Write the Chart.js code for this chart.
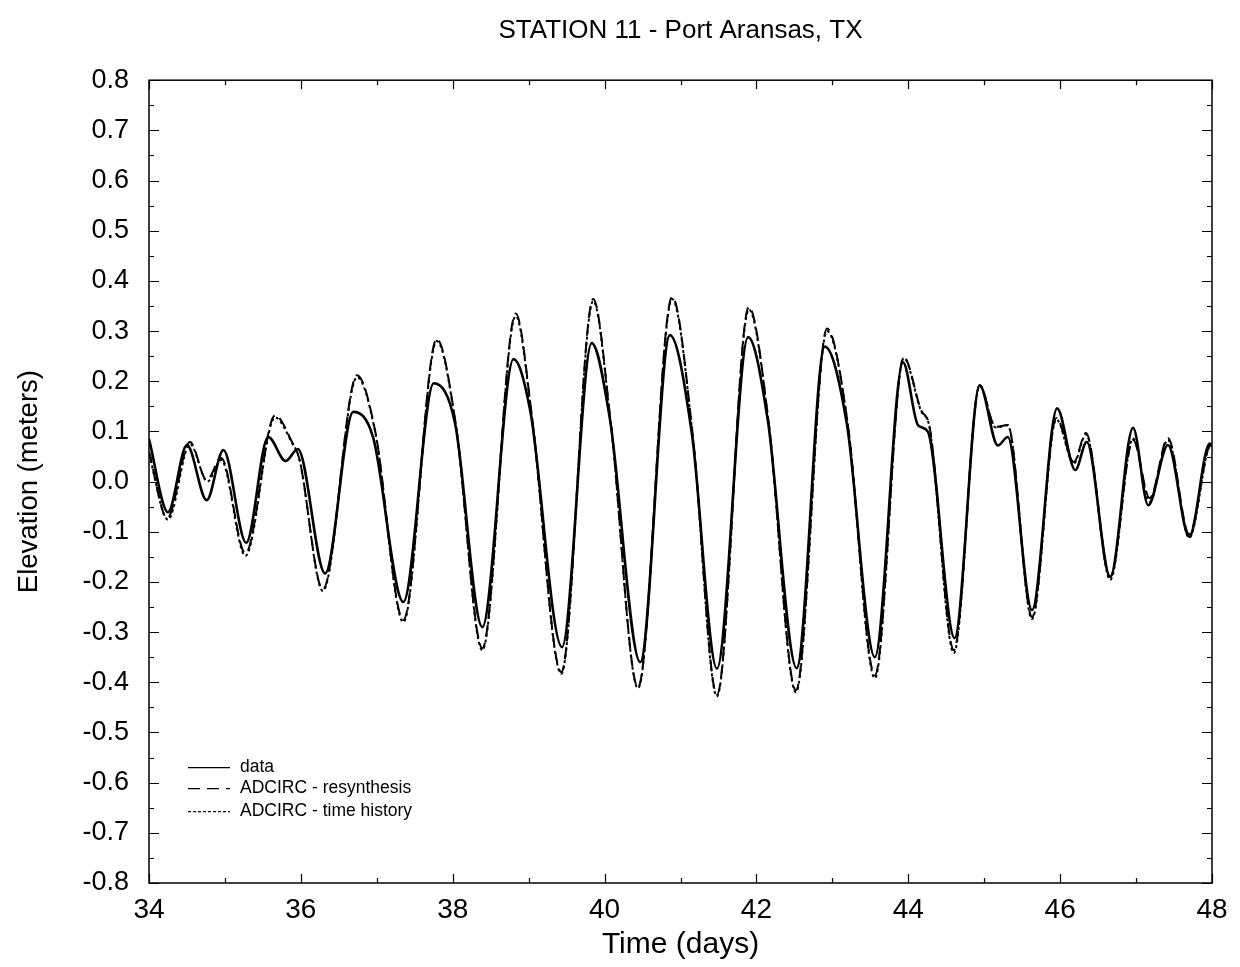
<!DOCTYPE html>
<html>
<head>
<meta charset="utf-8">
<script src="https://cdn.jsdelivr.net/npm/chart.js@4.4.0/dist/chart.umd.min.js"></script>
<style>
  html, body { margin: 0; padding: 0; background: #fff; }
  #wrap { width: 1240px; height: 967px; }
</style>
</head>
<body>
<div id="wrap"><canvas id="c" width="1240" height="967"></canvas></div>
<script>
// ---- Data ----
const chartTitle = "STATION 11 - Port Aransas, TX";
const seriesNames = ["data", "ADCIRC - resynthesis", "ADCIRC - time history"];

const dataTime = [34.00,34.25,34.50,34.76,34.98,35.28,35.57,35.80,35.96,36.32,36.69,36.95,37.35,37.75,38.03,38.39,38.80,39.02,39.44,39.83,40.07,40.47,40.86,41.15,41.48,41.89,42.15,42.53,42.90,43.19,43.56,43.93,44.13,44.26,44.61,44.94,45.18,45.31,45.63,45.96,46.20,46.35,46.66,46.96,47.16,47.42,47.70,47.97,48.00];
const dataElev = [0.085,-0.061,0.073,-0.037,0.063,-0.122,0.089,0.041,0.065,-0.183,0.139,0.089,-0.240,0.196,0.117,-0.290,0.244,0.142,-0.330,0.276,0.125,-0.360,0.292,0.095,-0.373,0.288,0.122,-0.372,0.269,0.116,-0.350,0.238,0.112,0.099,-0.312,0.192,0.072,0.089,-0.256,0.146,0.023,0.079,-0.190,0.107,-0.047,0.073,-0.110,0.076,0.070];

const resynTime = [34.00,34.24,34.54,34.76,34.95,35.27,35.66,35.88,35.98,36.29,36.74,36.98,37.35,37.79,38.04,38.39,38.83,39.04,39.43,39.85,40.08,40.44,40.89,41.16,41.48,41.90,42.16,42.52,42.93,43.20,43.56,43.94,44.17,44.28,44.60,44.94,45.15,45.31,45.63,45.95,46.18,46.34,46.66,46.96,47.18,47.42,47.70,47.99,48.00];
const resynElev = [0.060,-0.073,0.079,0.003,0.047,-0.143,0.132,0.080,0.045,-0.215,0.212,0.100,-0.276,0.284,0.115,-0.332,0.335,0.135,-0.380,0.364,0.120,-0.410,0.368,0.095,-0.425,0.348,0.120,-0.416,0.305,0.118,-0.386,0.248,0.142,0.110,-0.336,0.192,0.109,0.113,-0.270,0.127,0.039,0.097,-0.190,0.083,-0.033,0.087,-0.105,0.075,0.070];

const histTime = [34.00,34.25,34.54,34.77,34.95,35.27,35.66,35.88,35.98,36.29,36.74,36.98,37.35,37.79,38.04,38.39,38.83,39.04,39.43,39.85,40.08,40.44,40.89,41.16,41.48,41.90,42.16,42.52,42.93,43.20,43.56,43.94,44.17,44.28,44.60,44.94,45.15,45.31,45.63,45.95,46.18,46.34,46.66,46.96,47.18,47.42,47.70,47.99,48.00];
const histElev = [0.055,-0.076,0.075,0.000,0.043,-0.148,0.128,0.078,0.045,-0.218,0.208,0.098,-0.280,0.280,0.113,-0.336,0.330,0.132,-0.383,0.360,0.118,-0.412,0.364,0.093,-0.428,0.343,0.118,-0.420,0.300,0.118,-0.392,0.246,0.140,0.108,-0.342,0.190,0.108,0.112,-0.274,0.124,0.036,0.094,-0.196,0.086,-0.040,0.083,-0.112,0.074,0.070];

const xMin = 34, xMax = 48, xStep = 2;
const yMin = -0.8, yMax = 0.8, yStep = 0.1;

function pts(t, v) { return t.map((x, i) => ({ x: x, y: v[i] })); }

const FONT = "'Liberation Sans', Arial, Helvetica, sans-serif";

// Frame, inward ticks and legend
const framePlugin = {
  id: 'frame',
  afterDraw(chart) {
    const { ctx, chartArea: a, scales } = chart;
    const xs = scales.x, ys = scales.y;
    ctx.save();
    ctx.strokeStyle = '#000';
    ctx.lineWidth = 1.5;
    ctx.strokeRect(a.left, a.top, a.right - a.left, a.bottom - a.top);
    ctx.lineWidth = 1.2;
    ctx.beginPath();
    for (let k = 0; k <= Math.round((yMax - yMin) / 0.05); k++) {
      const v = yMin + k * 0.05;
      const py = Math.round(ys.getPixelForValue(v)) + 0.5;
      const len = (k % 2 === 0) ? 10 : 5;
      ctx.moveTo(a.left, py); ctx.lineTo(a.left + len, py);
      ctx.moveTo(a.right, py); ctx.lineTo(a.right - len, py);
    }
    for (let t = xMin; t <= xMax; t++) {
      const px = Math.round(xs.getPixelForValue(t)) + 0.5;
      const len = ((t - xMin) % 2 === 0) ? 9 : 5;
      ctx.moveTo(px, a.bottom); ctx.lineTo(px, a.bottom - len);
      ctx.moveTo(px, a.top); ctx.lineTo(px, a.top + len);
    }
    ctx.stroke();

    // legend
    const lx0 = a.left + 39, lx1 = a.left + 81, tx = a.left + 91;
    const rows = [a.top + 687, a.top + 708, a.top + 731];
    const dashes = [[], [12, 7], [3, 2]];
    ctx.font = '17.5px ' + FONT;
    ctx.fillStyle = '#000';
    ctx.textBaseline = 'middle';
    for (let i = 0; i < 3; i++) {
      ctx.setLineDash(dashes[i]);
      ctx.lineWidth = 1.3;
      ctx.beginPath();
      ctx.moveTo(lx0, rows[i] + 0.5); ctx.lineTo(lx1, rows[i] + 0.5);
      ctx.stroke();
      ctx.setLineDash([]);
      ctx.fillText(seriesNames[i], tx, rows[i]);
    }
    ctx.restore();
  }
};

new Chart(document.getElementById('c'), {
  type: 'line',
  data: {
    datasets: [
      { label: seriesNames[0], data: pts(dataTime, dataElev), borderColor: '#000', borderWidth: 2.6, pointRadius: 0, cubicInterpolationMode: 'monotone', fill: false },
      { label: seriesNames[1], data: pts(resynTime, resynElev), borderColor: '#000', borderWidth: 2, borderDash: [12, 6], pointRadius: 0, cubicInterpolationMode: 'monotone', fill: false },
      { label: seriesNames[2], data: pts(histTime, histElev), borderColor: '#000', borderWidth: 2, borderDash: [3, 3], pointRadius: 0, cubicInterpolationMode: 'monotone', fill: false }
    ]
  },
  options: {
    responsive: false,
    animation: false,
    devicePixelRatio: 1,
    layout: { padding: { top: 0, right: 28, bottom: 0, left: 0 } },
    plugins: {
      legend: { display: false },
      tooltip: { enabled: false },
      title: {
        display: true, text: chartTitle, fullSize: false, color: '#000',
        font: { family: FONT, size: 26, weight: 'normal' },
        padding: { top: 15, bottom: 34 }
      }
    },
    scales: {
      x: {
        type: 'linear', min: xMin, max: xMax,
        afterFit(s) { s.height = 84; },
        grid: { display: false, drawTicks: false },
        border: { display: false },
        ticks: { stepSize: xStep, color: '#000', padding: 10, font: { family: FONT, size: 28 }, maxRotation: 0,
                 callback: v => String(Math.round(v)) },
        title: { display: true, text: 'Time (days)', color: '#000', font: { family: FONT, size: 30 }, padding: { top: 0, bottom: 4 } }
      },
      y: {
        type: 'linear', min: yMin, max: yMax,
        afterFit(s) { s.width = 149; },
        grid: { display: false, drawTicks: false },
        border: { display: false },
        ticks: { stepSize: yStep, color: '#000', padding: 20, font: { family: FONT, size: 27 },
                 callback: v => (Math.abs(v) < 1e-9 ? '0.0' : v.toFixed(1)) },
        title: { display: true, text: 'Elevation (meters)', color: '#000', font: { family: FONT, size: 27.5 }, padding: { top: 13, bottom: 0 } }
      }
    }
  },
  plugins: [framePlugin]
});
</script>
</body>
</html>
